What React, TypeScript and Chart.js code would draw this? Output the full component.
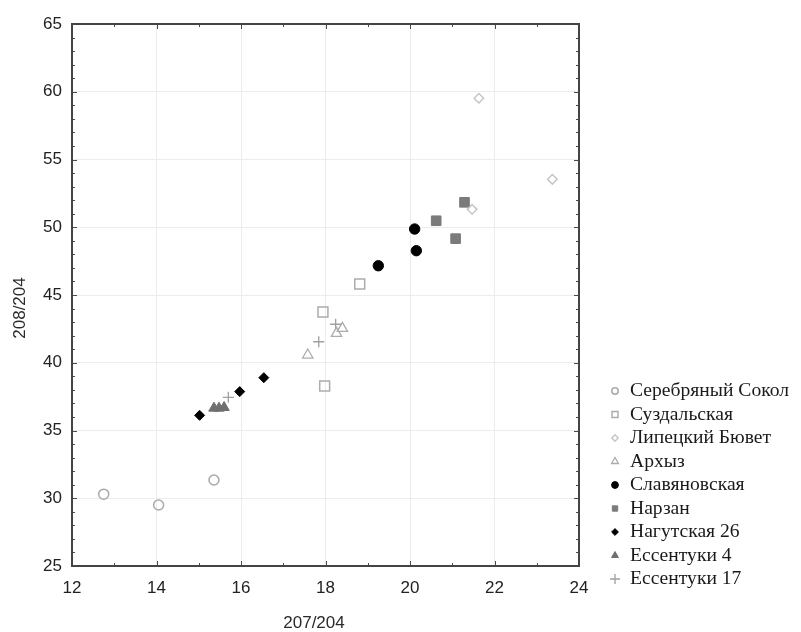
import React, { useEffect, useRef } from "react";
import { Chart, registerables } from "chart.js";
import { drawPoint } from "chart.js/helpers";

Chart.register(...registerables);

// ---- Data ----
const seriesNames = [
  "Серебряный Сокол",
  "Суздальская",
  "Липецкий Бювет",
  "Архыз",
  "Славяновская",
  "Нарзан",
  "Нагутская 26",
  "Ессентуки 4",
  "Ессентуки 17",
];

const sokolX = [12.75, 14.05, 15.36];
const sokolY = [30.3, 29.5, 31.35];
const suzdX = [17.94, 18.81, 17.98];
const suzdY = [43.75, 45.81, 38.28];
const lipX = [21.63, 23.37, 21.47];
const lipY = [59.52, 53.54, 51.32];
const arkhX = [17.58, 18.26, 18.4];
const arkhY = [40.57, 42.17, 42.54];
const slavX = [20.11, 20.15, 19.25];
const slavY = [49.87, 48.27, 47.16];
const narzX = [20.62, 21.08, 21.29];
const narzY = [50.48, 49.16, 51.84];
const nagX = [15.02, 15.97, 16.54];
const nagY = [36.12, 37.87, 38.9];
const ess4X = [15.36, 15.48, 15.6];
const ess4Y = [36.65, 36.65, 36.7];
const ess17X = [15.7, 17.84, 18.24];
const ess17Y = [37.45, 41.55, 42.84];

const xAxisTitle = "207/204";
const yAxisTitle = "208/204";
const xMin = 12, xMax = 24, xStep = 2;
const yMin = 25, yMax = 65, yStep = 5;

const allX = [sokolX, suzdX, lipX, arkhX, slavX, narzX, nagX, ess4X, ess17X];
const allY = [sokolY, suzdY, lipY, arkhY, slavY, narzY, nagY, ess4Y, ess17Y];

// ---- Styles ----
const styles = [
  { pointStyle: "circle", r: 5, fill: "rgba(0,0,0,0)", stroke: "#a9a9a9", bw: 1.5, lr: 3.2 },
  { pointStyle: "rect", r: 7, fill: "rgba(0,0,0,0)", stroke: "#acacac", bw: 1.5, lr: 4.2 },
  { pointStyle: "rectRot", r: 4.8, fill: "rgba(0,0,0,0)", stroke: "#c6c6c6", bw: 1.5, lr: 3.2 },
  { pointStyle: "triangle", r: 6, fill: "rgba(0,0,0,0)", stroke: "#acacac", bw: 1.3, lr: 4 },
  { pointStyle: "circle", r: 5.2, fill: "#000000", stroke: "#000000", bw: 1, lr: 3.4 },
  { pointStyle: "rect", r: 6.8, fill: "#7b7b7b", stroke: "#7b7b7b", bw: 1, lr: 3.8 },
  { pointStyle: "rectRot", r: 5, fill: "#000000", stroke: "#000000", bw: 1, lr: 3.4 },
  { pointStyle: "triangle", r: 6, fill: "#6f6f6f", stroke: "#6f6f6f", bw: 1, lr: 4 },
  { pointStyle: "cross", r: 5.5, fill: "#a0a0a0", stroke: "#a0a0a0", bw: 1.3, lr: 5 },
];

const frameAndTicks = {
  id: "frameAndTicks",
  afterDatasetsDraw(chart: any) {
    const { ctx, chartArea: a, scales } = chart;
    const xs = scales.x;
    const ys = scales.y;
    ctx.save();
    ctx.strokeStyle = "#4a4a4a";
    ctx.lineWidth = 1;
    for (let v = xMin; v <= xMax; v += 1) {
      const px = Math.round(xs.getPixelForValue(v)) + 0.5;
      const len = v % xStep === 0 ? 5 : 3;
      ctx.beginPath();
      ctx.moveTo(px, a.bottom);
      ctx.lineTo(px, a.bottom - len);
      ctx.moveTo(px, a.top);
      ctx.lineTo(px, a.top + len);
      ctx.stroke();
    }
    for (let v = yMin; v <= yMax; v += 1) {
      const py = Math.round(ys.getPixelForValue(v)) + 0.5;
      const len = v % yStep === 0 ? 5 : 3;
      ctx.beginPath();
      ctx.moveTo(a.left, py);
      ctx.lineTo(a.left + len, py);
      ctx.moveTo(a.right, py);
      ctx.lineTo(a.right - len, py);
      ctx.stroke();
    }
    ctx.lineWidth = 2;
    ctx.strokeStyle = "#444444";
    ctx.strokeRect(a.left, a.top, a.right - a.left, a.bottom - a.top);

    // axis titles
    ctx.fillStyle = "#2a2a2a";
    ctx.font = "17px 'Liberation Sans', Arial, sans-serif";
    ctx.textAlign = "center";
    ctx.textBaseline = "middle";
    ctx.fillText(xAxisTitle, 314, 623);
    ctx.save();
    ctx.translate(20, 308);
    ctx.rotate(-Math.PI / 2);
    ctx.fillText(yAxisTitle, 0, 0);
    ctx.restore();

    // legend
    ctx.font = "19.6px 'Liberation Serif', 'Times New Roman', serif";
    ctx.textAlign = "left";
    ctx.textBaseline = "middle";
    const y0 = 391;
    const step = 23.5;
    chart.data.datasets.forEach((ds: any, i: number) => {
      const st = styles[i];
      const y = y0 + i * step;
      ctx.save();
      ctx.fillStyle = st.fill;
      ctx.strokeStyle = st.stroke;
      ctx.lineWidth = st.bw;
      drawPoint(ctx, { pointStyle: st.pointStyle as any, radius: st.lr, rotation: 0, borderWidth: st.bw }, 615, y);
      ctx.restore();
      ctx.fillStyle = "#1a1a1a";
      ctx.fillText(ds.label, 630, y);
    });
    ctx.restore();
  },
};

export default function App() {
  const ref = useRef<HTMLCanvasElement | null>(null);
  useEffect(() => {
    document.body.style.margin = "0";
    if (!ref.current) return;
    const datasets = seriesNames.map((name, i) => ({
      label: name,
      data: allX[i].map((x, j) => ({ x, y: allY[i][j] })),
      pointStyle: styles[i].pointStyle as any,
      pointRadius: styles[i].r,
      pointHoverRadius: styles[i].r,
      backgroundColor: styles[i].fill,
      borderColor: styles[i].stroke,
      borderWidth: styles[i].bw,
      showLine: false,
    }));
    const chart = new Chart(ref.current, {
      type: "scatter",
      data: { datasets },
      options: {
        animation: false,
        responsive: false,
        layout: { padding: { left: 0, top: 24, right: 222, bottom: 0 } },
        plugins: { legend: { display: false }, tooltip: { enabled: false } },
        scales: {
          x: {
            type: "linear",
            min: xMin,
            max: xMax,
            afterFit: (s: any) => { s.height = 66; },
            ticks: {
              stepSize: xStep,
              padding: 12,
              color: "#222222",
              font: { family: "'Liberation Sans', Arial, sans-serif", size: 17 },
            },
            grid: { color: "#ececec", lineWidth: 1, drawTicks: false },
            border: { display: false },
          },
          y: {
            type: "linear",
            min: yMin,
            max: yMax,
            afterFit: (s: any) => { s.width = 72; },
            ticks: {
              stepSize: yStep,
              padding: 10,
              color: "#222222",
              font: { family: "'Liberation Sans', Arial, sans-serif", size: 17 },
            },
            grid: { color: "#ececec", lineWidth: 1, drawTicks: false },
            border: { display: false },
          },
        },
      },
      plugins: [frameAndTicks],
    });
    return () => chart.destroy();
  }, []);
  return (
    <div style={{ width: 801, height: 632, background: "#fff" }}>
      <canvas ref={ref} width={801} height={632} style={{ display: "block" }} />
    </div>
  );
}
